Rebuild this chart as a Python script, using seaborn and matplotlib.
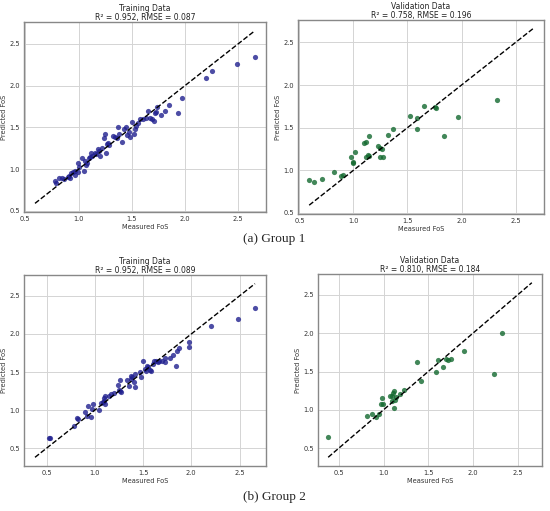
import matplotlib
matplotlib.use("Agg")
import matplotlib.pyplot as plt
import seaborn as sns
import pandas as pd
import numpy as np

# ---------------- data ----------------
g1_train_measured = [0.78, 0.79, 0.82, 0.84, 0.86, 0.90, 0.91, 0.92, 0.93, 0.95, 0.97, 0.97, 0.99, 0.99,
                     1.00, 1.03, 1.05, 1.06, 1.07, 1.08, 1.10, 1.11, 1.12, 1.13, 1.15, 1.16, 1.18, 1.19,
                     1.20, 1.22, 1.24, 1.25, 1.26, 1.27, 1.28, 1.29, 1.32, 1.34, 1.36, 1.37, 1.38, 1.41,
                     1.43, 1.45, 1.46, 1.47, 1.48, 1.50, 1.52, 1.53, 1.54, 1.56, 1.58, 1.61, 1.63, 1.65,
                     1.67, 1.69, 1.71, 1.72, 1.73, 1.74, 1.78, 1.81, 1.85, 1.94, 1.97, 2.20, 2.26, 2.49, 2.66]
g1_train_predicted = [0.86, 0.84, 0.89, 0.89, 0.88, 0.90, 0.92, 0.89, 0.95, 0.97, 0.98, 0.93, 0.97, 1.07,
                      1.02, 1.13, 0.98, 1.10, 1.05, 1.07, 1.13, 1.15, 1.19, 1.16, 1.19, 1.18, 1.24, 1.22,
                      1.16, 1.25, 1.37, 1.42, 1.19, 1.30, 1.31, 1.29, 1.40, 1.38, 1.37, 1.51, 1.42, 1.32,
                      1.48, 1.50, 1.41, 1.44, 1.39, 1.57, 1.42, 1.48, 1.52, 1.55, 1.60, 1.60, 1.61, 1.70,
                      1.61, 1.60, 1.58, 1.67, 1.68, 1.74, 1.65, 1.70, 1.77, 1.67, 1.85, 2.09, 2.18, 2.26, 2.35]

g1_val_measured = [0.59, 0.63, 0.71, 0.82, 0.88, 0.90, 0.98, 1.00, 1.00, 1.01, 1.10, 1.12, 1.14, 1.12,
                   1.13, 1.14, 1.23, 1.25, 1.26, 1.25, 1.27, 1.32, 1.37, 1.52, 1.59, 1.59, 1.65, 1.75,
                   1.76, 1.84, 1.97, 2.33]
g1_val_predicted = [0.88, 0.86, 0.90, 0.98, 0.93, 0.94, 1.15, 1.10, 1.08, 1.22, 1.32, 1.33, 1.40, 1.16,
                    1.18, 1.17, 1.28, 1.26, 1.25, 1.16, 1.15, 1.41, 1.49, 1.64, 1.61, 1.48, 1.75, 1.74,
                    1.73, 1.40, 1.62, 1.82]

g2_train_measured = [0.53, 0.54, 0.78, 0.82, 0.83, 0.90, 0.92, 0.93, 0.96, 0.97, 0.98, 1.04, 1.06, 1.08,
                     1.09, 1.10, 1.11, 1.11, 1.15, 1.17, 1.20, 1.24, 1.25, 1.26, 1.27, 1.26, 1.33, 1.35,
                     1.37, 1.38, 1.39, 1.41, 1.42, 1.42, 1.47, 1.48, 1.50, 1.52, 1.53, 1.54, 1.55, 1.57,
                     1.58, 1.60, 1.61, 1.63, 1.65, 1.67, 1.70, 1.73, 1.73, 1.78, 1.81, 1.84, 1.85, 1.87,
                     1.98, 1.98, 2.20, 2.48, 2.66]
g2_train_predicted = [0.63, 0.63, 0.79, 0.89, 0.88, 0.97, 0.92, 1.06, 0.91, 1.02, 1.08, 1.00, 1.09, 1.10,
                      1.12, 1.16, 1.08, 1.18, 1.19, 1.21, 1.23, 1.33, 1.27, 1.39, 1.24, 1.25, 1.39, 1.31,
                      1.41, 1.45, 1.43, 1.37, 1.30, 1.48, 1.50, 1.43, 1.65, 1.54, 1.52, 1.58, 1.56, 1.53,
                      1.51, 1.60, 1.64, 1.65, 1.63, 1.64, 1.65, 1.68, 1.63, 1.68, 1.73, 1.58, 1.78, 1.81,
                      1.89, 1.83, 2.10, 2.19, 2.34]

g2_val_measured = [0.38, 0.81, 0.87, 0.91, 0.95, 0.98, 0.97, 0.99, 1.07, 1.09, 1.10, 1.11, 1.12, 1.12,
                   1.13, 1.14, 1.18, 1.23, 1.38, 1.42, 1.59, 1.61, 1.66, 1.70, 1.72, 1.75, 1.90, 2.24, 2.33]
g2_val_predicted = [0.65, 0.92, 0.94, 0.90, 0.95, 1.15, 1.08, 1.08, 1.18, 1.18, 1.11, 1.22, 1.24, 1.03,
                    1.13, 1.17, 1.20, 1.26, 1.63, 1.37, 1.49, 1.65, 1.56, 1.66, 1.65, 1.66, 1.77, 1.47, 2.00]

titles = ["Training Data\nR\u00b2 = 0.952, RMSE = 0.087",
          "Validation Data\nR\u00b2 = 0.758, RMSE = 0.196",
          "Training Data\nR\u00b2 = 0.952, RMSE = 0.089",
          "Validation Data\nR\u00b2 = 0.810, RMSE = 0.184"]
captions = ["(a) Group 1", "(b) Group 2"]
x_label = "Measured FoS"
y_label = "Predicted FoS"

# ---------------- style ----------------
sns.set_style("white")
plt.rcParams["font.family"] = ["DejaVu Sans"]

W, H = 550, 511
fig = plt.figure(figsize=(W / 100, H / 100), dpi=100)

def px_axes(l, r, t, b):
    return fig.add_axes([l / W, (H - b) / H, (r - l) / W, (b - t) / H])

boxes = [(24, 266, 22, 212), (298, 544, 20, 214), (24, 266, 275, 466), (318, 542, 274, 466)]
panels = [
    (g1_train_measured, g1_train_predicted, "#20208f", g1_train_measured + g1_val_measured),
    (g1_val_measured, g1_val_predicted, "#13692f", g1_train_measured + g1_val_measured),
    (g2_train_measured, g2_train_predicted, "#20208f", g2_train_measured + g2_val_measured),
    (g2_val_measured, g2_val_predicted, "#13692f", g2_train_measured + g2_val_measured),
]

for box, (xm, yp, col, allm), title in zip(boxes, panels, titles):
    ax = px_axes(*box)
    df = pd.DataFrame({x_label: xm, y_label: yp})
    sns.scatterplot(data=df, x=x_label, y=y_label, ax=ax, color=col, alpha=0.8,
                    s=14, linewidth=0, zorder=3)
    lo, hi = min(allm), max(allm)
    ax.plot([lo, hi], [lo, hi], "k--", lw=1.0, zorder=4)
    ax.set_title(title, fontsize=5.5, pad=1.5, linespacing=1.0, color="#222222")
    ax.set_xlabel(x_label, fontsize=4.8, labelpad=1.5, color="#333333")
    ax.set_ylabel(y_label, fontsize=4.8, labelpad=1.5, color="#333333")
    ax.set_xticks([0.5, 1.0, 1.5, 2.0, 2.5])
    ax.set_yticks([0.5, 1.0, 1.5, 2.0, 2.5])
    ax.tick_params(labelsize=4.8, length=1.5, width=0.5, pad=1.5, colors="#333333")
    ax.grid(True, color="#d4d4d4", lw=0.7, zorder=0)
    ax.set_axisbelow(True)
    for sp in ax.spines.values():
        sp.set_color("#888888")
        sp.set_linewidth(1.0)

fig.text(274 / W, 1 - 239 / H, captions[0], ha="center", va="center",
         fontsize=9.5, family=["Liberation Serif", "DejaVu Serif"])
fig.text(274 / W, 1 - 497 / H, captions[1], ha="center", va="center",
         fontsize=9.5, family=["Liberation Serif", "DejaVu Serif"])

fig.savefig("out.png", dpi=100, facecolor="white")
